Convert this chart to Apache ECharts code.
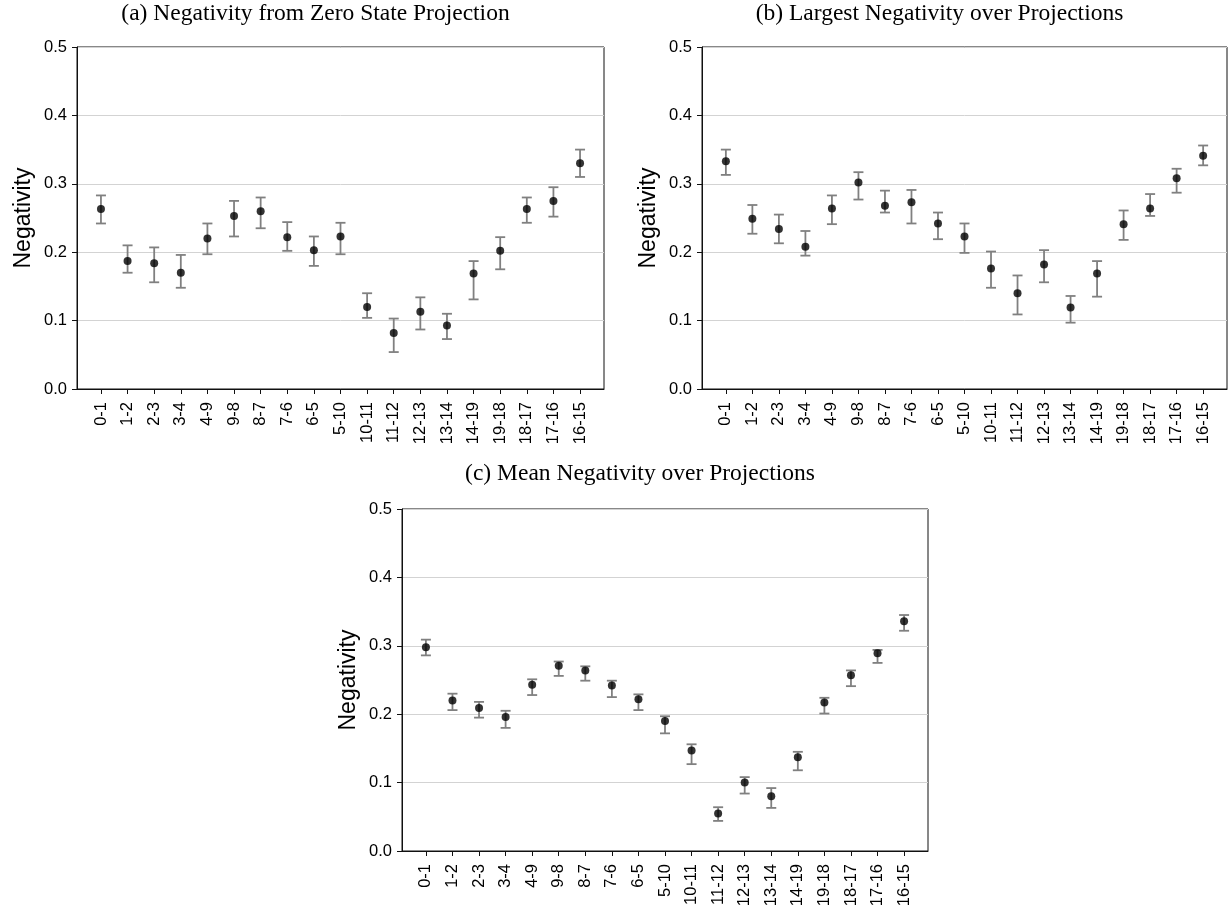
<!DOCTYPE html>
<html>
<head>
<meta charset="utf-8">
<script src="https://cdn.jsdelivr.net/npm/echarts@6/dist/echarts.min.js"></script>
<style>
  html, body { margin: 0; padding: 0; background: #fff; }
  #main { width: 1230px; height: 911px; }
</style>
</head>
<body>
<div id="main"></div>
<script>
var pairs = ['0-1', '1-2', '2-3', '3-4', '4-9', '9-8', '8-7', '7-6', '6-5', '5-10',
    '10-11', '11-12', '12-13', '13-14', '14-19', '19-18', '18-17', '17-16', '16-15'];

// (a) negativity from zero state projection
var zeroMean = [0.263, 0.187, 0.184, 0.170, 0.220, 0.253, 0.260, 0.222, 0.203, 0.223,
    0.120, 0.082, 0.113, 0.093, 0.169, 0.202, 0.263, 0.275, 0.330];
var zeroLow = [0.242, 0.170, 0.156, 0.148, 0.197, 0.223, 0.235, 0.202, 0.180, 0.197,
    0.104, 0.054, 0.087, 0.073, 0.131, 0.175, 0.243, 0.252, 0.310];
var zeroHigh = [0.283, 0.210, 0.207, 0.196, 0.242, 0.275, 0.280, 0.244, 0.223, 0.243,
    0.140, 0.103, 0.134, 0.110, 0.187, 0.222, 0.280, 0.295, 0.350];

// (b) largest negativity over projections
var maxMean = [0.333, 0.249, 0.234, 0.208, 0.264, 0.302, 0.268, 0.273, 0.242, 0.223,
    0.176, 0.140, 0.182, 0.119, 0.169, 0.241, 0.264, 0.308, 0.341];
var maxLow = [0.313, 0.227, 0.213, 0.195, 0.241, 0.277, 0.258, 0.242, 0.219, 0.199,
    0.148, 0.109, 0.156, 0.097, 0.135, 0.218, 0.253, 0.287, 0.327];
var maxHigh = [0.350, 0.269, 0.255, 0.231, 0.283, 0.317, 0.290, 0.291, 0.258, 0.242,
    0.201, 0.166, 0.203, 0.136, 0.187, 0.261, 0.285, 0.322, 0.356];

// (c) mean negativity over projections
var avgMean = [0.298, 0.220, 0.209, 0.196, 0.243, 0.271, 0.264, 0.242, 0.222, 0.190,
    0.147, 0.055, 0.100, 0.080, 0.137, 0.217, 0.257, 0.289, 0.336];
var avgLow = [0.286, 0.206, 0.195, 0.180, 0.228, 0.256, 0.249, 0.225, 0.206, 0.172,
    0.127, 0.044, 0.084, 0.063, 0.118, 0.201, 0.241, 0.275, 0.322];
var avgHigh = [0.309, 0.230, 0.218, 0.205, 0.251, 0.277, 0.270, 0.249, 0.229, 0.197,
    0.156, 0.064, 0.108, 0.092, 0.145, 0.224, 0.264, 0.294, 0.345];

var titles = ['(a) Negativity from Zero State Projection',
    '(b) Largest Negativity over Projections',
    '(c) Mean Negativity over Projections'];

var panels = [
    { mean: zeroMean, low: zeroLow, high: zeroHigh },
    { mean: maxMean, low: maxLow, high: maxHigh },
    { mean: avgMean, low: avgLow, high: avgHigh }
];

var grids = [
    { left: 77, top: 47, width: 527, height: 342 },
    { left: 702, top: 47, width: 525, height: 342 },
    { left: 402, top: 509, width: 526, height: 342 }
];
// titles sit over the whole subplot, y label included
var titleTop = [-3, -3, 457];

var tickIdx = pairs.map(function (p, i) { return i; });
var frame = '#111';

var myChart = echarts.init(document.getElementById('main'));

var option = {
    backgroundColor: '#fff',
    animation: false,
    title: [],
    grid: [],
    xAxis: [],
    yAxis: [],
    series: []
};

grids.forEach(function (g, k) {
    option.title.push({
        text: titles[k],
        left: g.left + g.width / 2 - 30,
        top: titleTop[k],
        textAlign: 'center',
        textStyle: { fontFamily: 'Liberation Serif', fontSize: 23.5, fontWeight: 'normal', color: '#000' }
    });
    option.grid.push({
        left: g.left, top: g.top, width: g.width, height: g.height,
        show: true, borderColor: frame, borderWidth: 1, backgroundColor: 'transparent'
    });
    option.xAxis.push({
        type: 'value',
        gridIndex: k,
        min: -0.9,
        max: 18.9,
        axisLine: { show: true, onZero: false, lineStyle: { color: frame, width: 1 } },
        axisTick: { show: true, customValues: tickIdx, length: 5, lineStyle: { color: frame } },
        splitLine: { show: false },
        axisLabel: {
            customValues: tickIdx,
            rotate: 90,
            margin: 13,
            fontFamily: 'Liberation Sans',
            fontSize: 16.5,
            color: '#000',
            formatter: function (v) { return pairs[Math.round(v)]; }
        }
    });
    option.yAxis.push({
        type: 'value',
        gridIndex: k,
        min: 0,
        max: 0.5,
        interval: 0.1,
        name: 'Negativity',
        nameLocation: 'middle',
        nameGap: 42,
        nameTextStyle: { fontFamily: 'Liberation Sans', fontSize: 23, color: '#000' },
        axisLine: { show: true, onZero: false, lineStyle: { color: frame, width: 1 } },
        axisTick: { show: true, length: 5, lineStyle: { color: frame } },
        splitLine: { show: true, lineStyle: { color: '#d3d3d3', width: 1 } },
        axisLabel: {
            margin: 10,
            fontFamily: 'Liberation Sans',
            fontSize: 16.5,
            color: '#000',
            formatter: function (v) { return v.toFixed(1); }
        }
    });

    var p = panels[k];
    option.series.push({
        type: 'custom',
        xAxisIndex: k,
        yAxisIndex: k,
        data: p.mean.map(function (m, i) { return [i, p.low[i], p.high[i]]; }),
        renderItem: function (params, api) {
            var lo = api.coord([api.value(0), api.value(1)]);
            var hi = api.coord([api.value(0), api.value(2)]);
            var w = 5;
            var style = { stroke: '#808080', lineWidth: 1.8 };
            return {
                type: 'group',
                children: [
                    { type: 'line', shape: { x1: lo[0], y1: lo[1], x2: hi[0], y2: hi[1] }, style: style },
                    { type: 'line', shape: { x1: lo[0] - w, y1: lo[1], x2: lo[0] + w, y2: lo[1] }, style: style },
                    { type: 'line', shape: { x1: hi[0] - w, y1: hi[1], x2: hi[0] + w, y2: hi[1] }, style: style }
                ]
            };
        },
        z: 2
    });
    option.series.push({
        type: 'scatter',
        xAxisIndex: k,
        yAxisIndex: k,
        symbol: 'circle',
        symbolSize: 8,
        itemStyle: { color: '#000' },
        data: p.mean.map(function (m, i) { return [i, m]; }),
        z: 3
    });
});

if (option && typeof option === "object") {
    myChart.setOption(option, true);
}
</script>
</body>
</html>
